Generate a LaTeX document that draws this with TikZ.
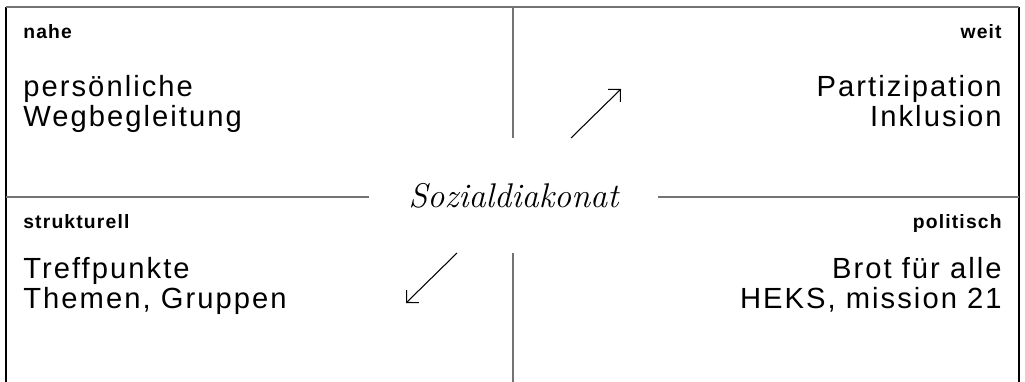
\documentclass[tikz,border=0pt]{standalone}
\usepackage{fontspec}
\usepackage{tikz}
\usetikzlibrary{arrows.meta}
\newfontfamily\quadfont{Liberation Sans}[LetterSpace=7.0]
\newfontfamily\tagfont{Liberation Sans}[LetterSpace=6.0]

\tikzset{
  frameline/.style={line width=0.8pt, black},
  splitline/.style={line width=1pt, black!55},
  headtag/.style={inner sep=0pt, font=\tagfont\bfseries\fontsize{11}{13}\selectfont},
  bodytext/.style={inner sep=0pt, font=\quadfont\fontsize{16.6}{17.1}\selectfont},
  pointer/.style={line width=0.6pt, -{Straight Barb[length=5pt, width=10pt]}}
}

\begin{document}
\begin{tikzpicture}[x=0.02cm, y=0.02cm]
    \useasboundingbox (0,0) rectangle (1025,382);

    % outer frame, open at the bottom
    \draw[frameline] (6,0) -- (6,375);
    \draw[frameline] (1019,0) -- (1019,375);
    \draw[splitline] (6,375) -- (1019,375);

    % centre title
    \node[font=\rmfamily\itshape\fontsize{19.5}{22}\selectfont, anchor=base, inner sep=0pt]
        (center) at (513.5,174) {Sozialdiakonat};

    % dividing lines, broken round the title
    \draw[splitline] (513,375) -- (513,244);
    \draw[splitline] (513,129) -- (513,0);
    \draw[splitline] (6,185) -- (369,185);
    \draw[splitline] (658,185) -- (1019,185);

    % arrows
    \coordinate (upfrom) at (571,244);
    \coordinate (upto) at (621,293);
    \coordinate (downfrom) at (457,129);
    \coordinate (downto) at (406,79);
    \draw[pointer] (upfrom) -- (upto);
    \draw[pointer] (downfrom) -- (downto);

    % top left
    \node[headtag, anchor=base west] (nahe) at (23,343) {nahe};
    \node[bodytext, anchor=base west, align=left] (nahetext) at (23,255)
        {persönliche\\Wegbegleitung};

    % top right
    \node[headtag, anchor=base east] (weit) at (1002,343) {weit};
    \node[bodytext, anchor=base east, align=right] (weittext) at (1002,255)
        {Partizipation\\Inklusion};

    % bottom left
    \node[headtag, anchor=base west] (strukturell) at (23,153) {strukturell};
    \node[bodytext, anchor=base west, align=left] (strukturelltext) at (23,73)
        {Treffpunkte\\Themen, Gruppen};

    % bottom right
    \node[headtag, anchor=base east] (politisch) at (1002,153) {politisch};
    \node[bodytext, anchor=base east, align=right] (politischtext) at (1002,73)
        {Brot für alle\\HEKS, mission 21};
\end{tikzpicture}
\end{document}
